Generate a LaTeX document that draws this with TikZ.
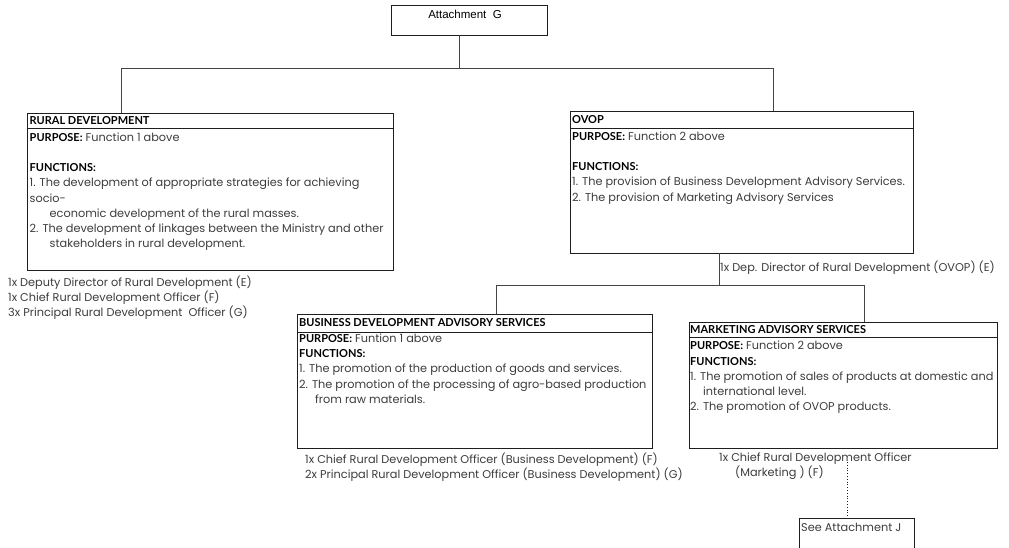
\documentclass[tikz,border=0pt]{standalone}
\usepackage{fontspec}
\setmainfont{Poppins}
\newfontfamily\hdrfont{Lato}
\newfontfamily\arialfont{Liberation Sans}
\usetikzlibrary{calc}

\definecolor{bodytext}{HTML}{3C3C3C}
\definecolor{boxline}{HTML}{1E1E1E}
\definecolor{connline}{HTML}{444444}

% bold heading words inside the unit boxes
\newcommand\hdr{\hdrfont\bfseries\color{black}\fontsize{11}{15.2}\selectfont}

\tikzset{
  unitbox/.style={draw=boxline, line width=0.9pt, inner sep=0pt, outer sep=0pt,
                  rectangle, anchor=north west},
  bodytxt/.style={inner sep=0pt, anchor=north west, align=left, text=bodytext,
                  font=\fontsize{11.3}{15.2}\selectfont},
  conn/.style={draw=connline, line width=0.9pt},
  seelink/.style={draw=boxline, line width=0.8pt, dotted},
}

\begin{document}
\begin{tikzpicture}[x=1pt, y=-1pt]
\useasboundingbox (0,0) rectangle (1009,547);

% ---- top box
\node[unitbox, minimum width=156pt, minimum height=30pt] (attg) at (391,5) {};
\node[inner sep=0pt, text=black, font=\arialfont\fontsize{11.5}{13}\selectfont]
  (attgtxt) at (465,14.5) {Attachment\ \ G};

% ---- Rural Development
\node[unitbox, minimum width=366pt, minimum height=157pt] (rd) at (27,113) {};
\draw[boxline, line width=0.9pt] ($(rd.north west)+(0,15)$) -- ($(rd.north east)+(0,15)$);
\node[bodytxt] (rdtxt) at (29.5,116.3) {%
  {\hdr RURAL DEVELOPMENT}\\[1.5pt]
  {\hdr PURPOSE:} Function 1 above\\[15.2pt]
  {\hdr FUNCTIONS:}\\
  1. The development of appropriate strategies for achieving\\
  socio-\\
  \hspace*{20pt}economic development of the rural masses.\\
  2. The development of linkages between the Ministry and other\\
  \hspace*{20pt}stakeholders in rural development.};
\node[bodytxt] (rdstaff) at (8,275.5) {%
  1x Deputy Director of Rural Development (E)\\
  1x Chief Rural Development Officer (F)\\
  3x Principal Rural Development\ \ Officer (G)};

% ---- OVOP
\node[unitbox, minimum width=343pt, minimum height=142pt] (ovop) at (570,111) {};
\draw[boxline, line width=0.9pt] ($(ovop.north west)+(0,17)$) -- ($(ovop.north east)+(0,17)$);
\node[bodytxt] (ovoptxt) at (572,115.3) {%
  {\hdr OVOP}\\[1.5pt]
  {\hdr PURPOSE:} Function 2 above\\[15.2pt]
  {\hdr FUNCTIONS:}\\
  1. The provision of Business Development Advisory Services.\\
  2. The provision of Marketing Advisory Services};
\node[bodytxt] (ovopstaff) at (720,260.5) {1x Dep. Director of Rural Development (OVOP) (E)};

% ---- Business Development Advisory Services
\node[unitbox, minimum width=355pt, minimum height=134pt] (bdas) at (297,314) {};
\draw[boxline, line width=0.9pt] ($(bdas.north west)+(0,18)$) -- ($(bdas.north east)+(0,18)$);
\node[bodytxt] (bdastxt) at (299,318) {%
  {\hdr BUSINESS DEVELOPMENT ADVISORY SERVICES}\\[1pt]
  {\hdr PURPOSE:} Funtion 1 above\\
  {\hdr FUNCTIONS:}\\
  1. The promotion of the production of goods and services.\\
  2. The promotion of the processing of agro-based production\\
  \hspace*{16pt}from raw materials.};
\node[bodytxt] (bdasstaff) at (305,452.5) {%
  1x Chief Rural Development Officer (Business Development) (F)\\
  2x Principal Rural Development Officer (Business Development) (G)};

% ---- Marketing Advisory Services
\node[unitbox, minimum width=308pt, minimum height=126pt] (mas) at (689,322) {};
\draw[boxline, line width=0.9pt] ($(mas.north west)+(0,15)$) -- ($(mas.north east)+(0,15)$);
\node[bodytxt] (mastxt) at (690,325) {%
  {\hdr MARKETING ADVISORY SERVICES}\\[1.5pt]
  {\hdr PURPOSE:} Function 2 above\\
  {\hdr FUNCTIONS:}\\
  1. The promotion of sales of products at domestic and\\
  \hspace*{13pt}international level.\\
  2. The promotion of OVOP products.};
\node[bodytxt] (masstaff) at (719,452.5) {%
  1x Chief Rural Development Officer\\
  \hspace*{16pt}(Marketing ) (F)};

% ---- reference box at the foot
\node[unitbox, minimum width=115pt, minimum height=31pt] (seej) at (799,518) {};
\node[bodytxt] (seejtxt) at (801,523) {See Attachment J};

% ---- connectors
\coordinate (bus1) at (459,68);
\coordinate (bus1l) at (121,68);
\coordinate (bus1r) at (773,68);
\draw[conn] (bus1 |- attg.south) -- (bus1);
\draw[conn] (bus1l |- rd.north) -- (bus1l) -- (bus1r) -- (bus1r |- ovop.north);

\coordinate (bus2) at (719,285);
\coordinate (bus2l) at (496,285);
\coordinate (bus2r) at (864,285);
\draw[conn] (bus2 |- ovop.south) -- (bus2);
\draw[conn] (bus2l |- bdas.north) -- (bus2l) -- (bus2r) -- (bus2r |- mas.north);

\coordinate (dtop) at (847,462);
\draw[seelink] (dtop) -- (dtop |- seej.north);
\end{tikzpicture}
\end{document}
